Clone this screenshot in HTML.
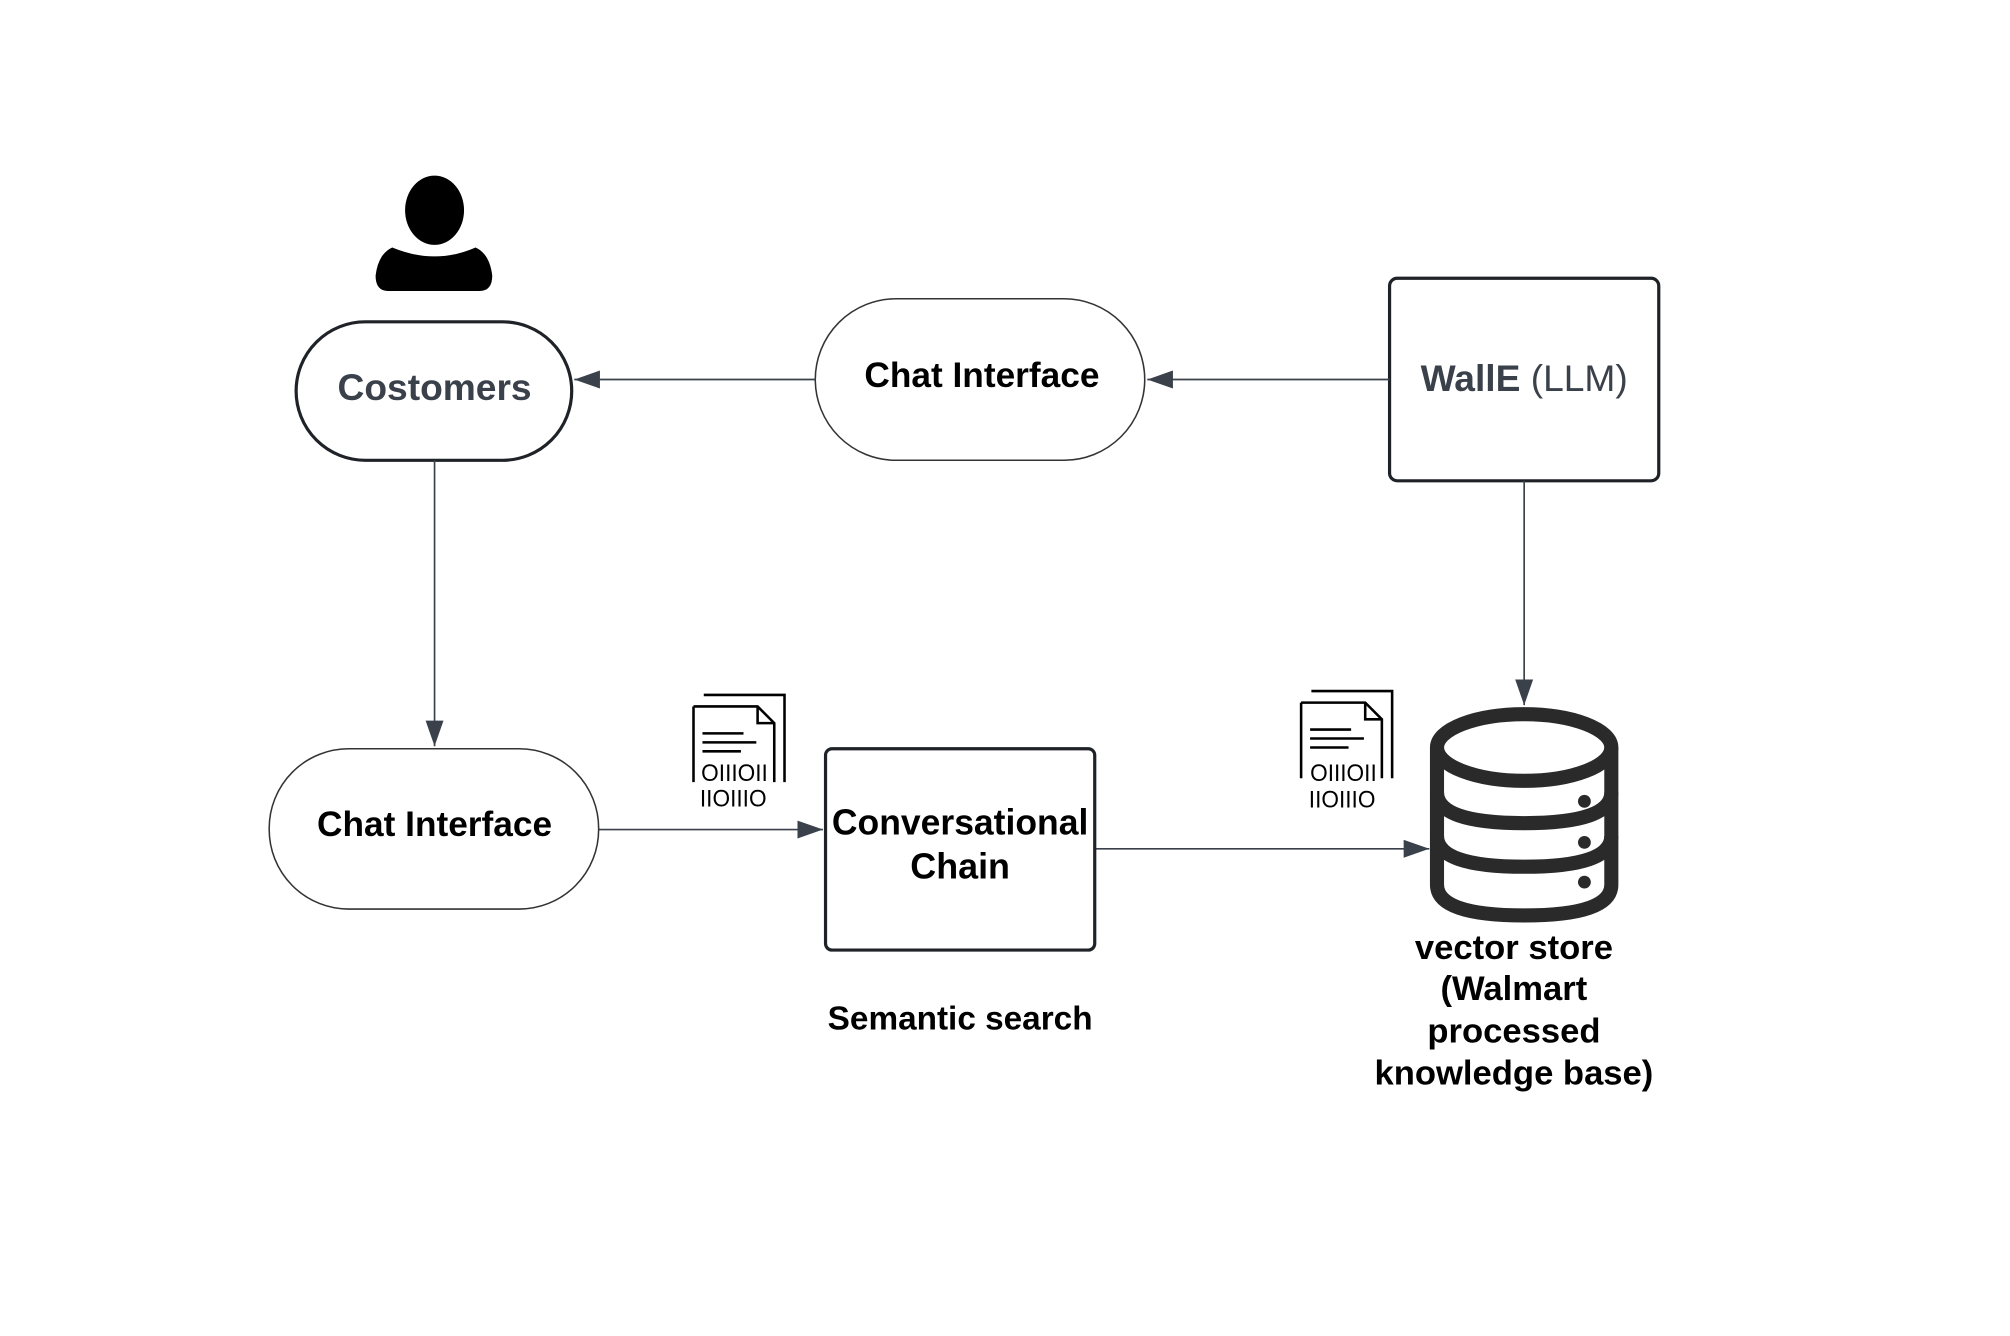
<!DOCTYPE html>
<html><head><meta charset="utf-8"><style>html,body{margin:0;padding:0;background:#fff}svg{display:block}</style></head>
<body>
<svg width="2010" height="1336" viewBox="0 0 1568 1042" preserveAspectRatio="none" xmlns="http://www.w3.org/2000/svg" font-family="Liberation Sans, sans-serif">
<defs>
<marker id="a2" viewBox="0 0 10 10" refX="10" refY="5" markerWidth="20" markerHeight="14" orient="auto" markerUnits="userSpaceOnUse" preserveAspectRatio="none">
<path d="M0,0 L10,5 L0,10 z" fill="#3a414a"/></marker>
</defs>
<ellipse cx="339" cy="164" rx="23" ry="27" fill="#000"/>
<path d="M306,193 Q295,198 293,215 Q293,227 303,227 L374,227 Q384,227 384,215 Q382,198 371,193 Q355,200 339,200 Q323,200 306,193 z" fill="#000"/>
<rect x="231" y="251" width="215" height="108" rx="54" fill="#fff" stroke="#1f2328" stroke-width="2.5"/>
<text x="339" y="312" text-anchor="middle" font-size="29" font-weight="bold" fill="#3a414a">Costomers</text>
<rect x="636" y="233" width="257" height="126" rx="63" fill="#fff" stroke="#333" stroke-width="1.2"/>
<text x="766" y="302" text-anchor="middle" font-size="27.5" font-weight="bold" fill="#000">Chat Interface</text>
<rect x="1084" y="217" width="210" height="158" rx="6" fill="#fff" stroke="#1f2328" stroke-width="2.5"/>
<text x="1189" y="305" text-anchor="middle" font-size="29" fill="#3a414a"><tspan font-weight="bold">WallE</tspan> (LLM)</text>
<g stroke="#3a414a" stroke-width="1.3" fill="none">
<line x1="636" y1="296" x2="448" y2="296" marker-end="url(#a2)"/>
<line x1="1084" y1="296" x2="895" y2="296" marker-end="url(#a2)"/>
<line x1="339" y1="359" x2="339" y2="582" marker-end="url(#a2)"/>
<line x1="1189" y1="375" x2="1189" y2="550" marker-end="url(#a2)"/>
<line x1="467" y1="647" x2="642" y2="647" marker-end="url(#a2)"/>
<line x1="855" y1="662" x2="1115" y2="662" marker-end="url(#a2)"/>
</g>
<rect x="210" y="584" width="257" height="125" rx="62" fill="#fff" stroke="#333" stroke-width="1.2"/>
<text x="339" y="652" text-anchor="middle" font-size="27.5" font-weight="bold" fill="#000">Chat Interface</text>
<rect x="644" y="584" width="210" height="157" rx="5" fill="#fff" stroke="#1f2328" stroke-width="2.5"/>
<text x="749" y="651" text-anchor="middle" font-size="28" font-weight="bold" fill="#000" textLength="200" lengthAdjust="spacingAndGlyphs">Conversational</text>
<text x="749" y="685" text-anchor="middle" font-size="28" font-weight="bold" fill="#000">Chain</text>
<text x="749" y="803" text-anchor="middle" font-size="26" font-weight="bold" fill="#000">Semantic search</text>
<g fill="none" stroke="#2a2a2a" stroke-width="11">
<ellipse cx="1189" cy="583" rx="68" ry="26"/>
<path d="M1121,583 L1121,690 Q1121,714 1189,714 Q1257,714 1257,690 L1257,583"/>
<path d="M1121,618 Q1121,642 1189,642 Q1257,642 1257,618"/>
<path d="M1121,652 Q1121,676 1189,676 Q1257,676 1257,652"/>
</g>
<circle cx="1236" cy="625" r="5" fill="#2a2a2a"/>
<circle cx="1236" cy="657" r="5" fill="#2a2a2a"/>
<circle cx="1236" cy="688" r="5" fill="#2a2a2a"/>
<g text-anchor="middle" font-size="27" font-weight="bold" fill="#000">
<text x="1181" y="748">vector store</text>
<text x="1181" y="780">(Walmart</text>
<text x="1181" y="813">processed</text>
<text x="1181" y="846">knowledge base)</text>
</g>
<g id="doc" fill="none" stroke="#000" stroke-width="2">
<path d="M549,542 L612,542 L612,610"/>
<path d="M541,551 L591,551 L604,564 L604,610 M541,551 L541,610"/>
<path d="M591,551 L591,564 L604,564"/>
<path d="M548,572 L580,572 M548,579 L590,579 M548,586 L578,586"/>
</g>
<text x="573" y="609" text-anchor="middle" font-size="19" fill="#000" textLength="52" lengthAdjust="spacingAndGlyphs">OIIIOII</text>
<text x="572" y="629" text-anchor="middle" font-size="19" fill="#000" textLength="52" lengthAdjust="spacingAndGlyphs">IIOIIIO</text>
<g transform="translate(474,-3)"><use href="#doc"/></g>
<text x="1048" y="609" text-anchor="middle" font-size="19" fill="#000" textLength="52" lengthAdjust="spacingAndGlyphs">OIIIOII</text>
<text x="1047" y="630" text-anchor="middle" font-size="19" fill="#000" textLength="52" lengthAdjust="spacingAndGlyphs">IIOIIIO</text>
</svg>
</body></html>
